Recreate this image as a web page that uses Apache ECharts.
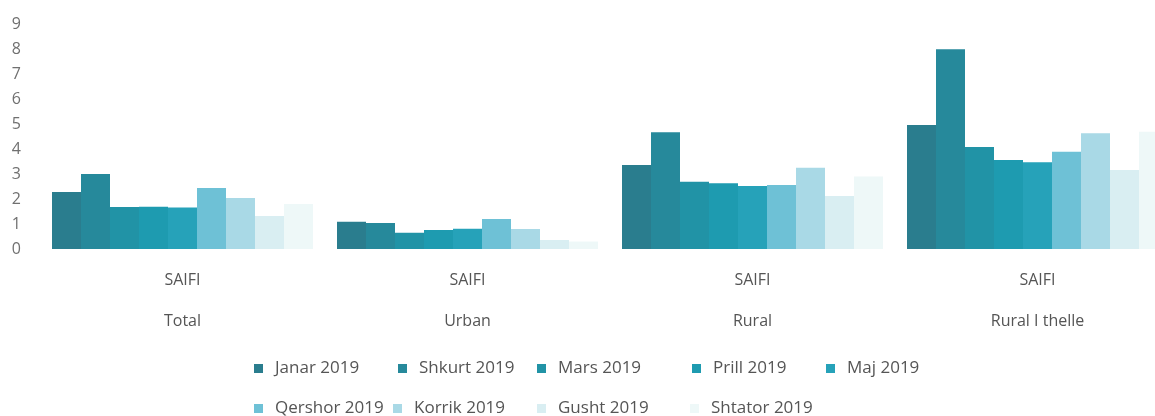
<!DOCTYPE html>
<html>
<head>
<meta charset="utf-8">
<script src="https://cdn.jsdelivr.net/npm/echarts@6/dist/echarts.min.js"></script>
<style>
  html, body { margin: 0; padding: 0; background: #fff; overflow: hidden; }
  /* the original chart is cut off on the right, so the canvas is wider than the window */
  #main { width: 1180px; height: 416px; }
</style>
</head>
<body>
<div id="main"></div>
<script>
// categories and months
var categories = ['Total', 'Urban', 'Rural', 'Rural I thelle'];
var metric = 'SAIFI';
var months = ['Janar 2019', 'Shkurt 2019', 'Mars 2019', 'Prill 2019', 'Maj 2019',
              'Qershor 2019', 'Korrik 2019', 'Gusht 2019', 'Shtator 2019'];
var yTicks = [0, 1, 2, 3, 4, 5, 6, 7, 8, 9];

// values per month (Total, Urban, Rural, Rural I thelle)
var janar   = [2.28, 1.09, 3.36, 4.96];
var shkurt  = [3.00, 1.04, 4.67, 7.99];
var mars    = [1.68, 0.65, 2.69, 4.08];
var prill   = [1.69, 0.76, 2.63, 3.56];
var maj     = [1.66, 0.81, 2.52, 3.47];
var qershor = [2.44, 1.20, 2.56, 3.89];
var korrik  = [2.04, 0.80, 3.25, 4.63];
var gusht   = [1.32, 0.36, 2.12, 3.16];
var shtator = [1.80, 0.30, 2.90, 4.69];

var values = [janar, shkurt, mars, prill, maj, qershor, korrik, gusht, shtator];
var colors = ['#2a7d8e', '#26899b', '#2193a6', '#1e9bb0', '#26a2b9',
              '#6ec1d6', '#a9d9e6', '#d9eef2', '#eef8f8'];

// legend placement (two rows, like the original)
var legendLeft = [254, 398, 537, 692, 826, 254, 393, 537, 690];
var legendTop  = [360, 360, 360, 360, 360, 400, 400, 400, 400];

var myChart = echarts.init(document.getElementById('main'));

var legends = months.map(function (m, i) {
  return {
    data: [m],
    left: legendLeft[i],
    top: legendTop[i],
    padding: 0,
    icon: 'rect',
    itemWidth: 9,
    itemHeight: 9,
    selectedMode: false,
    textStyle: { color: '#555555', fontSize: 17, fontFamily: 'Open Sans', padding: [0, 0, 0, 7] }
  };
});

var series = months.map(function (m, i) {
  return {
    name: m,
    type: 'bar',
    data: values[i],
    barWidth: 29,
    barGap: '0%',
    itemStyle: { color: colors[i] }
  };
});

var option = {
  animation: false,
  backgroundColor: '#fff',
  legend: legends,
  grid: { left: 40, right: 0, top: 24, bottom: 167, containLabel: false },
  xAxis: {
    type: 'category',
    data: categories,
    axisLine: { show: false },
    axisTick: { show: false },
    axisLabel: {
      color: '#555555',
      fontSize: 16,
      fontFamily: 'Open Sans',
      lineHeight: 41,
      margin: 11,
      formatter: function (v) { return metric + '\n' + v; }
    }
  },
  yAxis: {
    type: 'value',
    min: yTicks[0],
    max: yTicks[yTicks.length - 1],
    interval: 1,
    splitLine: { show: false },
    axisLine: { show: false },
    axisTick: { show: false },
    axisLabel: { color: '#707070', fontSize: 16, fontFamily: 'Open Sans', margin: 19 }
  },
  series: series
};

myChart.setOption(option);
</script>
</body>
</html>
